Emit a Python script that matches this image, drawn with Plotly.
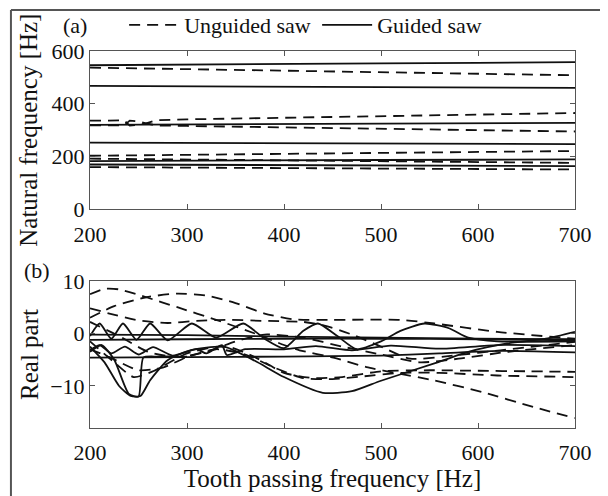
import plotly.graph_objects as go
from plotly.subplots import make_subplots

# ---------------- data: panel (a) natural frequency ----------------
tpf_top = [200, 300, 400, 500, 600, 700]
nat_guided = [
    [546, 549, 551, 553, 555, 558],
    [468, 466, 465, 463, 461, 460],
    [320, 322, 324, 325, 327, 328],
    [253, 252, 251, 250, 248, 247],
    [183, 185, 186, 187, 188, 189],
    [170, 169, 168, 166, 165, 164],
]
nat_unguided = [
    [537, 531, 525, 519, 514, 508],
    [203, 207, 210, 214, 218, 221],
    [192, 189, 186, 183, 179, 176],
    [160, 158, 157, 155, 153, 151],
]
# two unguided modes that veer near 240-260 Hz
veer_x = [200, 235, 241, 250, 258, 268, 300, 400, 500, 600, 700]
veer_hi = [336, 337, 317, 320, 326, 338, 341, 347, 353, 359, 365]
veer_lo = [318, 318, 336, 333, 326, 318, 316, 310, 305, 300, 295]

# ---------------- data: panel (b) real part ----------------
re_unguided = [
    ([200, 215, 230, 258, 290, 330, 370, 400, 416, 451, 485, 520, 554, 605, 657, 700],
     [7.5, 8.5, 8.4, 6.9, 5.0, 2.6, 0.0, -2.2, -3.2, -4.6, -6.4, -7.7, -8.9, -11.2, -14.0, -16.1]),
    ([200, 225, 258, 290, 320, 350, 380, 410, 450, 520, 555, 620, 700],
     [3.0, 5.2, 6.9, 7.6, 7.2, 5.8, 3.8, 2.7, 2.6, 2.6, 1.9, 0.3, -1.0]),
    ([200, 220, 250, 280, 310, 340, 380, 420, 440, 470, 500, 530, 580, 623, 700],
     [4.8, 3.8, 2.5, 2.0, 2.4, 2.6, 2.4, 2.2, 1.6, -0.2, -2.5, -4.8, -4.1, -3.2, -1.6]),
    ([200, 225, 245, 265, 300, 340, 370, 400, 430, 460, 500, 550, 600, 650, 700],
     [-1.5, -5.5, -8.3, -7.2, -3.8, -2.4, -4.5, -7.5, -8.5, -8.3, -7.2, -7.0, -7.1, -7.2, -7.3]),
    ([200, 220, 250, 275, 300, 330, 360, 390, 420, 450, 480, 520, 560, 620, 700],
     [-3.0, -4.5, -7.0, -6.5, -4.5, -3.0, -4.0, -6.5, -8.5, -8.7, -8.2, -7.5, -7.5, -8.0, -8.3]),
    ([200, 230, 260, 290, 320, 350, 380, 420, 460, 500, 540, 580, 630, 700],
     [2.2, -0.5, -3.5, -4.5, -3.5, -1.5, -0.2, -0.8, -2.5, -4.0, -5.5, -4.8, -3.5, -2.2]),
]
re_guided = [
    ([200, 215, 230, 242, 252, 262, 280, 300, 320, 340, 370, 400, 440, 470, 500, 555, 590, 630, 670, 700],
     [-2.5, -5.5, -10.0, -11.9, -11.9, -8.9, -5.1, -3.4, -2.7, -2.6, -5.2, -8.3, -11.3, -11.0, -9.0, -5.7, -3.5, -1.9, -1.0, 0.3]),
    ([200, 212, 225, 240, 250, 255, 270, 300],
     [-3.5, -2.2, -5.0, -11.5, -12.0, -4.6, -4.4, -4.4]),
    ([200, 300, 400, 500, 560, 620, 700],
     [-4.6, -4.5, -4.4, -4.2, -3.8, -3.3, -3.6]),
    ([200, 210, 222, 234, 248, 262, 280, 305, 330, 358, 380, 400, 420, 435, 455, 475, 500, 520, 545, 570, 590, 620, 700],
     [-0.5, 1.9, -1.0, 1.9, -1.2, 1.9, -1.3, 1.9, -0.8, 1.9, -1.0, -2.8, 0.5, 1.9, -0.5, -3.0, -1.5, 0.5, 1.9, 1.0, -0.8, -1.5, -1.5]),
    ([200, 210, 222, 236, 250, 265, 285, 310, 320, 336, 341, 360, 400, 433, 470, 510, 560, 620, 700],
     [-3.2, -2.2, -3.8, -2.5, -4.0, -2.6, -4.2, -3.0, -3.8, -2.2, -4.1, -3.0, -3.0, -2.4, -3.2, -2.3, -2.9, -2.2, -2.4]),
    ([200, 300, 400, 500, 600, 700],
     [-0.2, -0.3, -0.6, -0.8, -1.0, -1.1]),
    ([200, 300, 400, 500, 600, 700],
     [-1.2, -1.1, -1.0, -1.0, -1.1, -1.3]),
]

legend_names = ["Unguided saw", "Guided saw"]
x_ticks = [200, 300, 400, 500, 600, 700]

FONT = "Liberation Serif, Times New Roman, serif"
INK = "#111111"
DASH = "11px,7px"
TICK_SIZE = 22
TITLE_SIZE = 25

fig = make_subplots(rows=2, cols=1, vertical_spacing=0.0)

def add(x, y, row, dashed, show=False, name=None, smooth=True):
    fig.add_trace(go.Scatter(
        x=x, y=y, mode="lines",
        line=dict(color=INK, width=1.8, dash=DASH if dashed else "solid",
                  shape="spline" if smooth else "linear", smoothing=0.6),
        showlegend=show, name=name, hoverinfo="skip"), row=row, col=1)

first_u = True
for vals in nat_unguided:
    add(tpf_top, vals, 1, True, show=first_u, name=legend_names[0], smooth=False)
    first_u = False
add(veer_x, veer_hi, 1, True, smooth=False)
add(veer_x, veer_lo, 1, True, smooth=False)
first_g = True
for vals in nat_guided:
    add(tpf_top, vals, 1, False, show=first_g, name=legend_names[1], smooth=False)
    first_g = False

for xs, ys in re_unguided:
    add(xs, ys, 2, True)
for xs, ys in re_guided:
    add(xs, ys, 2, False)

axis_common = dict(showline=True, linecolor="#555555", linewidth=1, mirror="ticks",
                   ticks="inside", ticklen=5, tickcolor="#555555", showgrid=False,
                   zeroline=False, automargin=False,
                   tickfont=dict(family=FONT, size=TICK_SIZE, color="#111"))
title_font = dict(family=FONT, size=TITLE_SIZE, color="#111")

fig.update_xaxes(range=[200, 700], tickvals=x_ticks, ticklabelstandoff=5, **axis_common)
fig.update_xaxes(row=2, col=1, title=dict(text="Tooth passing frequency [Hz]",
                 font=title_font, standoff=2))
fig.update_yaxes(row=1, col=1, range=[0, 600], tickvals=[0, 200, 400, 600],
                 domain=[0.580, 1.0],
                 title=dict(text="Natural frequency [Hz]", font=title_font, standoff=6),
                 **axis_common)
fig.update_yaxes(row=2, col=1, range=[-18, 10], tickvals=[-10, 0, 10],
                 domain=[0.0, 0.390],
                 title=dict(text="Real part", font=title_font, standoff=4),
                 **axis_common)

fig.add_annotation(text="(a)", xref="paper", yref="paper", x=-0.030, y=1.068,
                   xanchor="center", yanchor="middle", showarrow=False,
                   font=dict(family=FONT, size=TICK_SIZE, color="#111"))
fig.add_annotation(text="(b)", xref="paper", yref="paper", x=-0.109, y=0.419,
                   xanchor="center", yanchor="middle", showarrow=False,
                   font=dict(family=FONT, size=TICK_SIZE, color="#111"))

# figure frame (left and top edges)
fig.add_shape(type="line", xref="paper", yref="paper", x0=-0.163, x1=1.1, y0=1.109, y1=1.109,
              line=dict(color="#555555", width=2))
fig.add_shape(type="line", xref="paper", yref="paper", x0=-0.163, x1=-0.163, y0=1.109, y1=-0.25,
              line=dict(color="#555555", width=2))

# the page body adds an 8 px offset; margins compensate for it
fig.update_layout(
    width=608, height=496,
    margin=dict(l=82, r=41, t=43, b=76, autoexpand=False),
    paper_bgcolor="white", plot_bgcolor="white",
    font=dict(family=FONT, size=TICK_SIZE, color="#111"),
    legend=dict(orientation="h", xref="container", yref="container",
                x=0.191, y=0.9657, xanchor="left", yanchor="middle",
                font=dict(family=FONT, size=TICK_SIZE, color="#111"), bgcolor="rgba(0,0,0,0)",
                itemwidth=50, entrywidth=128, tracegroupgap=0),
)

fig.write_html("out.html")
